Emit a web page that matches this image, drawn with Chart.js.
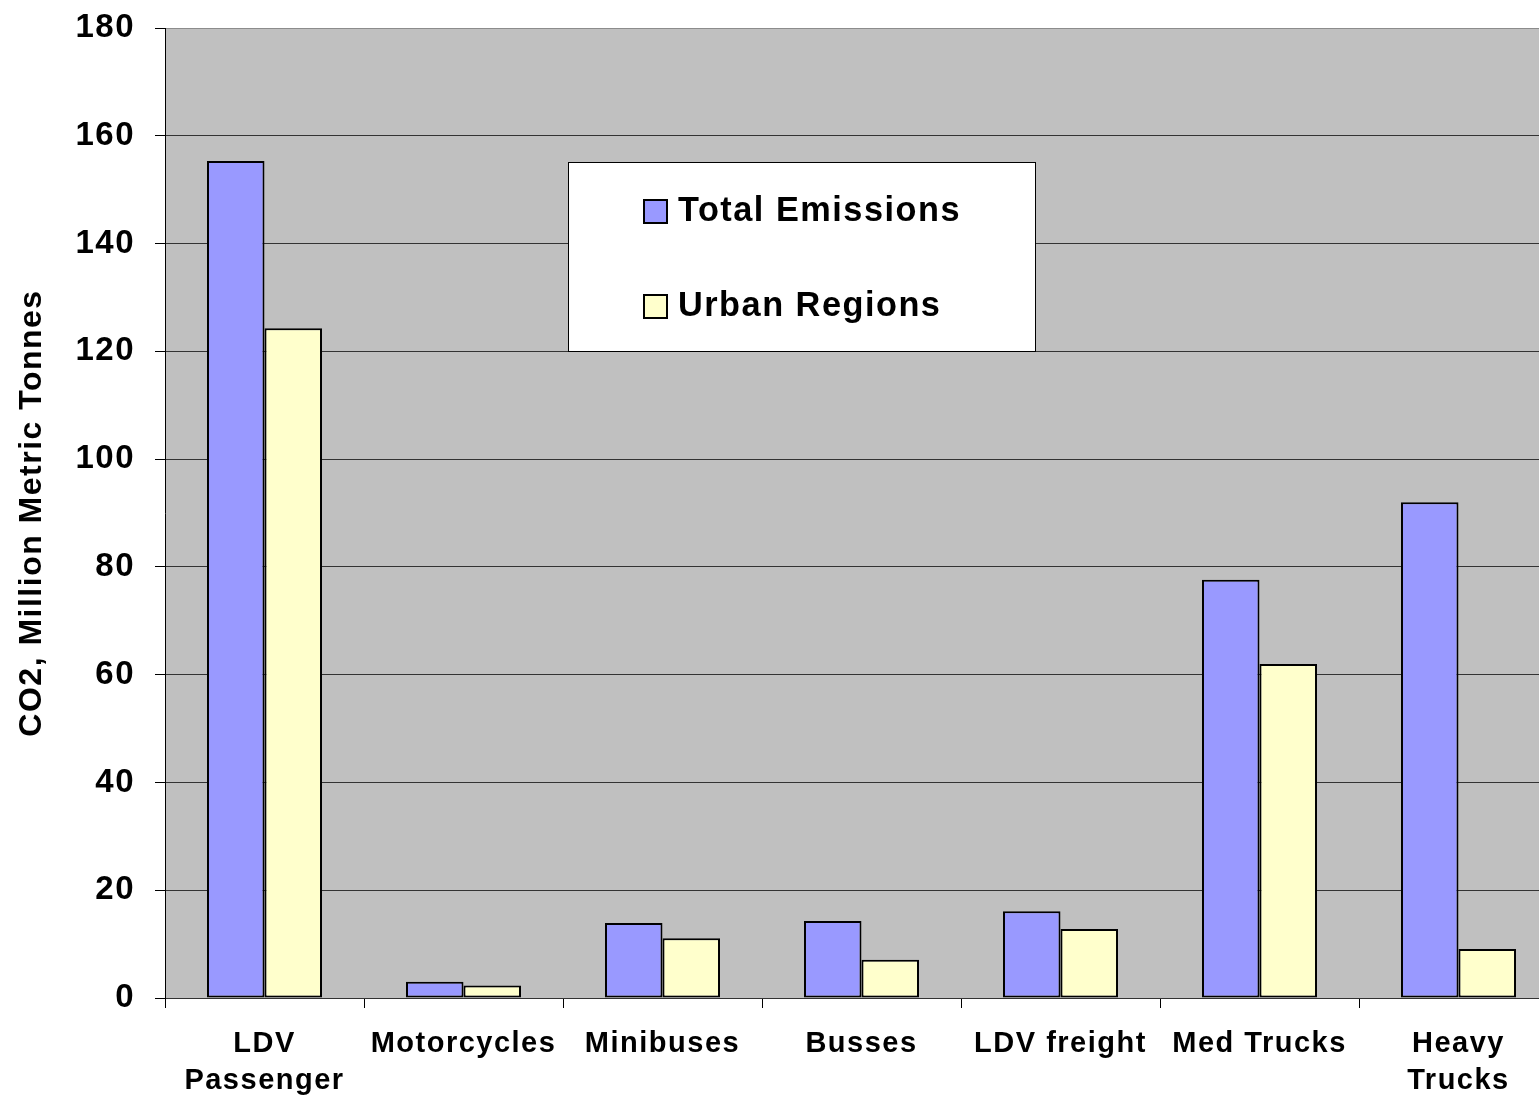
<!DOCTYPE html>
<html>
<head>
<meta charset="utf-8">
<title>CO2 emissions by vehicle type</title>
<script src="https://cdn.jsdelivr.net/npm/chart.js@4.4.1/dist/chart.umd.min.js"></script>
<style>
  html, body { margin: 0; padding: 0; background: #fff; overflow: hidden; }
  #wrap { position: relative; width: 1558px; height: 1096px; }
</style>
</head>
<body>
<div id="wrap"><canvas id="chart"></canvas></div>
<script>
const categories = [['LDV', 'Passenger'], 'Motorcycles', 'Minibuses', 'Busses', 'LDV freight', 'Med Trucks', ['Heavy', 'Trucks']];
const totalEmissions = [155.3, 3.0, 13.9, 14.3, 16.1, 77.6, 92.0];
const urbanRegions = [124.3, 2.3, 11.1, 7.1, 12.8, 62.0, 9.1];
const yMin = 0;
const yMax = 180;
const yStep = 20;

const FONT = 'Arial, "Liberation Sans", sans-serif';

// slightly wide letter spacing for every label on the canvas
const letterSpacing = {
    id: 'letterSpacing',
    beforeUpdate(chart) { chart.ctx.letterSpacing = '1.5px'; },
    beforeDraw(chart) { chart.ctx.letterSpacing = '1.5px'; }
};

// grey plot background
const plotBackground = {
    id: 'plotBackground',
    beforeDraw(chart) {
        const { ctx, chartArea } = chart;
        ctx.save();
        ctx.fillStyle = '#c0c0c0';
        ctx.fillRect(chartArea.left, chartArea.top, chartArea.right - chartArea.left, chartArea.bottom - chartArea.top);
        ctx.restore();
    }
};

// boxed legend sitting inside the plot
const boxLegend = {
    id: 'boxLegend',
    afterDraw(chart) {
        const { ctx, chartArea } = chart;
        const x = chartArea.left + 403;
        const y = chartArea.top + 134;
        const w = 467;
        const h = 189;

        ctx.save();
        ctx.fillStyle = '#fff';
        ctx.fillRect(x, y, w, h);
        ctx.strokeStyle = '#000';
        ctx.lineWidth = 1;
        ctx.strokeRect(x + 0.5, y + 0.5, w, h);

        chart.data.datasets.forEach((ds, i) => {
            const cy = y + 49 + i * 95;
            ctx.fillStyle = ds.backgroundColor;
            ctx.fillRect(x + 76, cy - 11, 23, 23);
            ctx.lineWidth = 2;
            ctx.strokeStyle = '#000';
            ctx.strokeRect(x + 76, cy - 11, 23, 23);
            ctx.fillStyle = '#000';
            ctx.font = 'bold 34.3px ' + FONT;
            ctx.textBaseline = 'middle';
            ctx.textAlign = 'left';
            ctx.fillText(ds.label, x + 110, cy + 1);
        });
        ctx.restore();
    }
};

new Chart(document.getElementById('chart'), {
    type: 'bar',
    data: {
        labels: categories,
        datasets: [{
            label: 'Total Emissions',
            data: totalEmissions,
            backgroundColor: '#9999ff',
            borderColor: '#000',
            borderWidth: 2,
            borderSkipped: false
        }, {
            label: 'Urban Regions',
            data: urbanRegions,
            backgroundColor: '#ffffcc',
            borderColor: '#000',
            borderWidth: 2,
            borderSkipped: false
        }]
    },
    options: {
        responsive: true,
        maintainAspectRatio: false,
        animation: false,
        categoryPercentage: 0.578,
        barPercentage: 1,
        layout: { padding: { top: 28, left: 0, right: 0, bottom: 0 } },
        plugins: {
            legend: { display: false },
            tooltip: { enabled: false }
        },
        scales: {
            x: {
                grid: {
                    offset: true,
                    drawOnChartArea: false,
                    drawTicks: true,
                    tickLength: 10,
                    color: '#000'
                },
                border: { color: '#333', width: 1 },
                ticks: {
                    color: '#000',
                    font: { family: FONT, size: 29, weight: 'bold', lineHeight: 1.28 },
                    padding: 17,
                    maxRotation: 0,
                    autoSkip: false
                },
                afterFit(scale) {
                    scale.height = 98;
                    scale.paddingLeft = 0;
                    scale.paddingRight = 0;
                }
            },
            y: {
                min: yMin,
                max: yMax,
                grid: {
                    color: ctx => ctx.tick && ctx.tick.value === yMax ? '#8c8c8c' : '#333',
                    lineWidth: 1,
                    tickLength: 10,
                    tickColor: '#000'
                },
                border: { color: '#000', width: 1 },
                ticks: {
                    stepSize: yStep,
                    color: '#000',
                    font: { family: FONT, size: 33, weight: 'bold' },
                    padding: 20
                },
                title: {
                    display: true,
                    text: 'CO2, Million Metric Tonnes',
                    color: '#000',
                    font: { family: FONT, size: 32, weight: 'bold' },
                    padding: { top: 13, bottom: 0 }
                },
                afterFit(scale) {
                    scale.width = 165;
                    scale.paddingTop = 0;
                    scale.paddingBottom = 0;
                }
            }
        }
    },
    plugins: [letterSpacing, plotBackground, boxLegend]
});
</script>
</body>
</html>
